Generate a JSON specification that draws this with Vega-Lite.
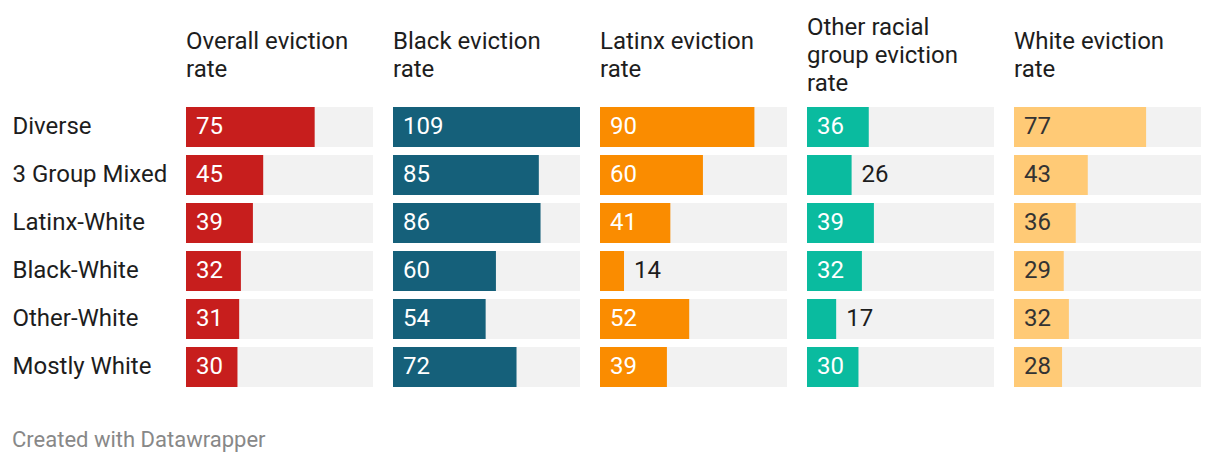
{
  "$schema": "https://vega.github.io/schema/vega-lite/v6.json",
  "background": "white",
  "padding": {"left": 12, "top": 16, "right": 10, "bottom": 4},
  "title": {"text": "Created with Datawrapper", "orient": "bottom", "anchor": "start", "frame": "bounds", "font": "Roboto", "fontSize": 22, "fontWeight": "normal", "color": "#888888", "offset": 39, "baseline": "top", "lineHeight": 24},
  "data": {"values": [
    {"group": "Diverse", "m": "overall", "value": 75},
    {"group": "3 Group Mixed", "m": "overall", "value": 45},
    {"group": "Latinx-White", "m": "overall", "value": 39},
    {"group": "Black-White", "m": "overall", "value": 32},
    {"group": "Other-White", "m": "overall", "value": 31},
    {"group": "Mostly White", "m": "overall", "value": 30},
    {"group": "Diverse", "m": "black", "value": 109},
    {"group": "3 Group Mixed", "m": "black", "value": 85},
    {"group": "Latinx-White", "m": "black", "value": 86},
    {"group": "Black-White", "m": "black", "value": 60},
    {"group": "Other-White", "m": "black", "value": 54},
    {"group": "Mostly White", "m": "black", "value": 72},
    {"group": "Diverse", "m": "latinx", "value": 90},
    {"group": "3 Group Mixed", "m": "latinx", "value": 60},
    {"group": "Latinx-White", "m": "latinx", "value": 41},
    {"group": "Black-White", "m": "latinx", "value": 14},
    {"group": "Other-White", "m": "latinx", "value": 52},
    {"group": "Mostly White", "m": "latinx", "value": 39},
    {"group": "Diverse", "m": "other", "value": 36},
    {"group": "3 Group Mixed", "m": "other", "value": 26},
    {"group": "Latinx-White", "m": "other", "value": 39},
    {"group": "Black-White", "m": "other", "value": 32},
    {"group": "Other-White", "m": "other", "value": 17},
    {"group": "Mostly White", "m": "other", "value": 30},
    {"group": "Diverse", "m": "white", "value": 77},
    {"group": "3 Group Mixed", "m": "white", "value": 43},
    {"group": "Latinx-White", "m": "white", "value": 36},
    {"group": "Black-White", "m": "white", "value": 29},
    {"group": "Other-White", "m": "white", "value": 32},
    {"group": "Mostly White", "m": "white", "value": 28}
  ]},
  "bounds": "flush",
  "spacing": 20,
  "hconcat": [
    {
      "width": 187, "height": 288,
      "title": {"text": ["Overall eviction", "rate"], "offset": 21},
      "transform": [{"filter": "datum.m === 'overall'"}],
      "encoding": {"y": {"field": "group", "type": "nominal", "sort": null, "scale": {"paddingInner": 0.16667, "paddingOuter": 0.08333},
        "axis": {"title": null, "domain": false, "ticks": false, "tickSize": 0, "labelAlign": "left", "labelPadding": 174, "labelFont": "Roboto", "labelFontSize": 24, "labelColor": "#1d1d1d", "labelLimit": 300}}},
      "layer": [
        {"mark": {"type": "bar", "color": "#f2f2f2"}, "encoding": {"x": {"datum": 0, "type": "quantitative", "scale": {"domain": [0, 109], "nice": false}, "axis": null}, "x2": {"datum": 109}}},
        {"mark": {"type": "bar", "color": "#c71e1d"}, "encoding": {"x": {"field": "value", "type": "quantitative"}}},
        {"transform": [{"filter": "datum.value >= 27"}], "mark": {"type": "text", "align": "left", "baseline": "middle", "dx": 10, "font": "Roboto", "fontSize": 24, "color": "white"}, "encoding": {"x": {"datum": 0, "type": "quantitative"}, "text": {"field": "value"}}},
        {"transform": [{"filter": "datum.value < 27"}], "mark": {"type": "text", "align": "left", "baseline": "middle", "dx": 10, "font": "Roboto", "fontSize": 24, "color": "#1d1d1d"}, "encoding": {"x": {"field": "value", "type": "quantitative"}, "text": {"field": "value"}}}
      ]
    },
    {
      "width": 187, "height": 288,
      "title": {"text": ["Black eviction", "rate"], "offset": 21},
      "transform": [{"filter": "datum.m === 'black'"}],
      "encoding": {"y": {"field": "group", "type": "nominal", "sort": null, "scale": {"paddingInner": 0.16667, "paddingOuter": 0.08333}, "axis": null}},
      "layer": [
        {"mark": {"type": "bar", "color": "#f2f2f2"}, "encoding": {"x": {"datum": 0, "type": "quantitative", "scale": {"domain": [0, 109], "nice": false}, "axis": null}, "x2": {"datum": 109}}},
        {"mark": {"type": "bar", "color": "#15607a"}, "encoding": {"x": {"field": "value", "type": "quantitative"}}},
        {"transform": [{"filter": "datum.value >= 27"}], "mark": {"type": "text", "align": "left", "baseline": "middle", "dx": 10, "font": "Roboto", "fontSize": 24, "color": "white"}, "encoding": {"x": {"datum": 0, "type": "quantitative"}, "text": {"field": "value"}}},
        {"transform": [{"filter": "datum.value < 27"}], "mark": {"type": "text", "align": "left", "baseline": "middle", "dx": 10, "font": "Roboto", "fontSize": 24, "color": "#1d1d1d"}, "encoding": {"x": {"field": "value", "type": "quantitative"}, "text": {"field": "value"}}}
      ]
    },
    {
      "width": 187, "height": 288,
      "title": {"text": ["Latinx eviction", "rate"], "offset": 21},
      "transform": [{"filter": "datum.m === 'latinx'"}],
      "encoding": {"y": {"field": "group", "type": "nominal", "sort": null, "scale": {"paddingInner": 0.16667, "paddingOuter": 0.08333}, "axis": null}},
      "layer": [
        {"mark": {"type": "bar", "color": "#f2f2f2"}, "encoding": {"x": {"datum": 0, "type": "quantitative", "scale": {"domain": [0, 109], "nice": false}, "axis": null}, "x2": {"datum": 109}}},
        {"mark": {"type": "bar", "color": "#fa8c00"}, "encoding": {"x": {"field": "value", "type": "quantitative"}}},
        {"transform": [{"filter": "datum.value >= 27"}], "mark": {"type": "text", "align": "left", "baseline": "middle", "dx": 10, "font": "Roboto", "fontSize": 24, "color": "white"}, "encoding": {"x": {"datum": 0, "type": "quantitative"}, "text": {"field": "value"}}},
        {"transform": [{"filter": "datum.value < 27"}], "mark": {"type": "text", "align": "left", "baseline": "middle", "dx": 10, "font": "Roboto", "fontSize": 24, "color": "#1d1d1d"}, "encoding": {"x": {"field": "value", "type": "quantitative"}, "text": {"field": "value"}}}
      ]
    },
    {
      "width": 187, "height": 288,
      "title": {"text": ["Other racial", "group eviction", "rate"], "offset": 7},
      "transform": [{"filter": "datum.m === 'other'"}],
      "encoding": {"y": {"field": "group", "type": "nominal", "sort": null, "scale": {"paddingInner": 0.16667, "paddingOuter": 0.08333}, "axis": null}},
      "layer": [
        {"mark": {"type": "bar", "color": "#f2f2f2"}, "encoding": {"x": {"datum": 0, "type": "quantitative", "scale": {"domain": [0, 109], "nice": false}, "axis": null}, "x2": {"datum": 109}}},
        {"mark": {"type": "bar", "color": "#0abb9f"}, "encoding": {"x": {"field": "value", "type": "quantitative"}}},
        {"transform": [{"filter": "datum.value >= 27"}], "mark": {"type": "text", "align": "left", "baseline": "middle", "dx": 10, "font": "Roboto", "fontSize": 24, "color": "white"}, "encoding": {"x": {"datum": 0, "type": "quantitative"}, "text": {"field": "value"}}},
        {"transform": [{"filter": "datum.value < 27"}], "mark": {"type": "text", "align": "left", "baseline": "middle", "dx": 10, "font": "Roboto", "fontSize": 24, "color": "#1d1d1d"}, "encoding": {"x": {"field": "value", "type": "quantitative"}, "text": {"field": "value"}}}
      ]
    },
    {
      "width": 187, "height": 288,
      "title": {"text": ["White eviction", "rate"], "offset": 21},
      "transform": [{"filter": "datum.m === 'white'"}],
      "encoding": {"y": {"field": "group", "type": "nominal", "sort": null, "scale": {"paddingInner": 0.16667, "paddingOuter": 0.08333}, "axis": null}},
      "layer": [
        {"mark": {"type": "bar", "color": "#f2f2f2"}, "encoding": {"x": {"datum": 0, "type": "quantitative", "scale": {"domain": [0, 109], "nice": false}, "axis": null}, "x2": {"datum": 109}}},
        {"mark": {"type": "bar", "color": "#ffca76"}, "encoding": {"x": {"field": "value", "type": "quantitative"}}},
        {"transform": [{"filter": "datum.value >= 27"}], "mark": {"type": "text", "align": "left", "baseline": "middle", "dx": 10, "font": "Roboto", "fontSize": 24, "color": "#333333"}, "encoding": {"x": {"datum": 0, "type": "quantitative"}, "text": {"field": "value"}}},
        {"transform": [{"filter": "datum.value < 27"}], "mark": {"type": "text", "align": "left", "baseline": "middle", "dx": 10, "font": "Roboto", "fontSize": 24, "color": "#1d1d1d"}, "encoding": {"x": {"field": "value", "type": "quantitative"}, "text": {"field": "value"}}}
      ]
    }
  ],
  "config": {
    "view": {"stroke": null},
    "title": {"font": "Roboto", "fontSize": 24, "fontWeight": "normal", "color": "#1d1d1d", "anchor": "start", "frame": "group", "lineHeight": 28, "baseline": "middle"}
  }
}
